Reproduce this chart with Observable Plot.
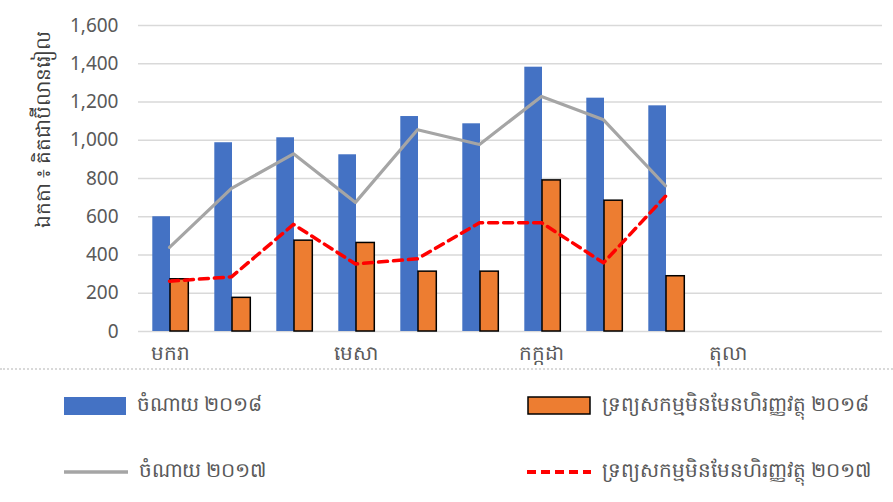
<!DOCTYPE html>
<html>
<head>
<meta charset="utf-8">
<script src="https://cdn.jsdelivr.net/npm/d3@7"></script>
<script src="https://cdn.jsdelivr.net/npm/@observablehq/plot@0.6"></script>
<style>
  body { margin: 0; background: #fff; font-family: "Noto Sans", "Liberation Sans", sans-serif; }
  #wrap { width: 893px; height: 502px; position: relative; overflow: hidden; }
  #legend { position: relative; width: 893px; height: 132px; border-top: 2px dotted #d9d9d9; box-sizing: border-box; }
  .item { position: absolute; display: flex; align-items: center; color: #595959; font-size: 20px; white-space: nowrap; }
  .item svg { margin-right: 11px; flex: none; }
</style>
</head>
<body>
<div id="wrap">
  <div id="chart"></div>
  <div id="legend"></div>
</div>
<script>
const months = ["មករា","កុម្ភៈ","មីនា","មេសា","ឧសភា","មិថុនា","កក្កដា","សីហា","កញ្ញា","តុលា","វិច្ឆិកា","ធ្នូ"];
const tickLabels = ["មករា","មេសា","កក្កដា","តុលា"];
const yTicks = [0, 200, 400, 600, 800, 1000, 1200, 1400, 1600];
const yLabel = "ឯកតា ៖ គិតជាប៊ីលានរៀល";

const seriesNames = ["ចំណាយ ២០១៨", "ទ្រព្យសកម្មមិនមែនហិរញ្ញវត្ថុ ២០១៨", "ចំណាយ ២០១៧", "ទ្រព្យសកម្មមិនមែនហិរញ្ញវត្ថុ ២០១៧"];
const spend2018  = [600, 987, 1013, 924, 1124, 1086, 1382, 1220, 1180];
const assets2018 = [273, 176, 475, 463, 313, 313, 790, 684, 289];
const spend2017  = [440, 748, 929, 675, 1055, 978, 1229, 1107, 762];
const assets2017 = [263, 286, 560, 353, 380, 569, 569, 359, 707];

const rows = spend2018.map((v, i) => ({
  month: months[i], spend2018: v, assets2018: assets2018[i], spend2017: spend2017[i], assets2017: assets2017[i]
}));

const chart = Plot.plot({
  width: 893,
  height: 368,
  marginLeft: 138,
  marginRight: 11,
  marginTop: 25,
  marginBottom: 37,
  style: { fontFamily: "'Noto Sans', 'Liberation Sans', sans-serif", fontSize: "19px", color: "#595959", background: "#fff" },
  x: { type: "band", domain: months, padding: 0, label: null },
  y: { domain: [0, 1600], label: null },
  marks: [
    Plot.ruleY(yTicks, { stroke: "#d9d9d9", strokeWidth: 1.5 }),
    Plot.axisY({ ticks: yTicks, tickSize: 0, tickPadding: 20, tickFormat: d3.format(","), fontSize: 19, fill: "#595959", label: null }),
    Plot.axisX({ ticks: tickLabels, tickSize: 0, tickPadding: 14, fontSize: 20, fill: "#595959", label: null }),
    Plot.text([yLabel], { frameAnchor: "top-left", rotate: -90, textAnchor: "end", dx: -103, dy: 5, fontSize: 20, fill: "#404040" }),
    Plot.barY(rows, { x: "month", y: "spend2018", fill: "#4472C4", insetLeft: 14.3, insetRight: 30 }),
    Plot.barY(rows, { x: "month", y: "assets2018", fill: "#ED7D31", stroke: "#000", strokeWidth: 1.5, insetLeft: 32, insetRight: 11.7 }),
    Plot.line(rows, { x: "month", y: "spend2017", stroke: "#A5A5A5", strokeWidth: 3.2, strokeLinejoin: "round" }),
    Plot.line(rows, { x: "month", y: "assets2017", stroke: "#FF0000", strokeWidth: 3.5, strokeDasharray: "9,6", strokeLinejoin: "round" })
  ]
});
document.getElementById("chart").appendChild(chart);

const legend = document.getElementById("legend");
const swatches = [
  `<svg width="62" height="18"><rect x="0" y="0" width="62" height="18" fill="#4472C4"/></svg>`,
  `<svg width="64" height="19"><rect x="1" y="1" width="62" height="17" fill="#ED7D31" stroke="#000" stroke-width="1.5"/></svg>`,
  `<svg width="64" height="6"><line x1="0" x2="64" y1="3" y2="3" stroke="#A5A5A5" stroke-width="3.5"/></svg>`,
  `<svg width="64" height="6"><line x1="0" x2="64" y1="3" y2="3" stroke="#FF0000" stroke-width="4" stroke-dasharray="9,5"/></svg>`
];
const pos = [
  { left: 64, top: 20 }, { left: 527, top: 20 },
  { left: 64, top: 86 }, { left: 527, top: 86 }
];
seriesNames.forEach((name, i) => {
  const d = document.createElement("div");
  d.className = "item";
  d.style.left = pos[i].left + "px";
  d.style.top = pos[i].top + "px";
  d.innerHTML = swatches[i] + `<span>${name}</span>`;
  legend.appendChild(d);
});
</script>
</body>
</html>
